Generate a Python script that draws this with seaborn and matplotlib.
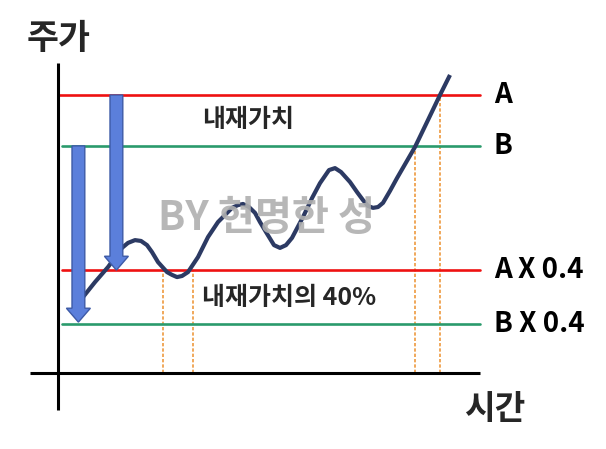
import matplotlib
matplotlib.use("Agg")
import matplotlib.pyplot as plt
import seaborn as sns
import pandas as pd
from matplotlib.patches import FancyArrow

sns.set_theme(style="white")
plt.rcParams['font.family'] = ['Noto Sans CJK KR', 'DejaVu Sans']

# ---- data (schematic values) ----
time = [6.25, 9.25, 12.5, 16.0, 17.5, 19.25, 20.75, 22.25, 23.5, 25.0, 27.25, 28.5,
        29.75, 31.0, 32.5, 35.0, 36.25, 37.5, 40.0, 43.5, 45.0, 46.25, 47.75, 49.25,
        50.5, 52.0, 54.0, 55.5, 57.0, 58.5, 61.25, 63.5, 65.5, 67.75, 69.25, 70.75,
        73.0, 74.75, 76.25, 77.5, 78.75, 80.0, 81.25, 83.0, 84.75, 89.25, 92.5,
        95.5, 98.0]
price = [27.3, 32.7, 38.1, 45.0, 46.8, 47.8, 47.5, 46.0, 43.5, 39.9, 36.3, 35.3,
         34.5, 34.9, 36.3, 41.7, 45.3, 48.9, 54.3, 59.4, 60.4, 60.8, 59.7, 57.6,
         54.3, 50.7, 46.0, 45.0, 46.0, 48.6, 56.1, 62.9, 68.3, 73.0, 73.7, 72.3,
         68.7, 65.1, 62.2, 60.1, 59.4, 59.7, 61.2, 65.5, 70.1, 81.3, 91.0,
         100.0, 107.2]

level_names = ["A", "B", "A X 0.4", "B X 0.4"]
level_values = [100.0, 81.7, 37.0, 17.6]
level_colors = ["#ee1111", "#2a9a6c", "#ee1111", "#2a9a6c"]
level_start = [0.0, 1.0, 1.0, 1.0]

cross_times = [26.25, 33.75, 89.25, 95.5]
cross_tops = [37.0, 37.0, 81.7, 100.0]

arrow_x = [5.1, 14.6]
arrow_from = [81.7, 100.0]
arrow_to = [18.3, 37.0]

band_labels = ["내재가치", "내재가치의 40%"]
band_pos = [(36.0, 91.0), (36.0, 27.0)]
watermark = "BY 현명한 성"

# ---- figure ----
fig = plt.figure(figsize=(6.06, 4.49), dpi=100)
ax = fig.add_axes([0, 0, 1, 1])
ax.set_xlim(-58 / 4, (606 - 58) / 4)
ax.set_ylim((373 - 449) / 2.78, 373 / 2.78)

# axes lines
ax.plot([0, 0], [-13.3, 111.5], color="black", lw=2.2, solid_capstyle="butt", zorder=3)
ax.plot([-7, 105.5], [0, 0], color="black", lw=2.2, solid_capstyle="butt", zorder=3)

# levels
for name, v, c, s in zip(level_names, level_values, level_colors, level_start):
    ax.plot([s, 105.5], [v, v], color=c, lw=1.9, zorder=2)
    ax.text(109.0, v, name, fontsize=20, fontweight="bold", color="black",
            ha="left", va="center")

# dashed crossing lines
for t, top in zip(cross_times, cross_tops):
    ax.plot([t, t], [0, top], color="#ee9a40", lw=1.2, ls=(0, (2.0, 1.2)), zorder=1)

# price curve
df = pd.DataFrame({"time": time, "price": price})
sns.lineplot(data=df, x="time", y="price", ax=ax, color="#2c3a63", lw=3.0,
             sort=False, zorder=4, legend=False)
ax.lines[-1].set_solid_joinstyle("round")
ax.lines[-1].set_solid_capstyle("butt")
ax.axis("off")

# arrows
for x, a, b in zip(arrow_x, arrow_from, arrow_to):
    ar = FancyArrow(x, a, 0, b - a, width=3.2, head_width=6.0, head_length=5.0,
                    length_includes_head=True, facecolor="#5b7fdb",
                    edgecolor="#3d5aa6", lw=1.0, zorder=5)
    ax.add_patch(ar)

# texts
ax.text(-7.75, 120.5, "주가", fontsize=25, fontweight="bold", ha="left", va="center")
ax.text(101.5, -13.3, "시간", fontsize=24, fontweight="bold", ha="left", va="center")
for lab, (x, y) in zip(band_labels, band_pos):
    ax.text(x, y, lab, fontsize=18, fontweight="bold", ha="left", va="center")
ax.text(25.0, 55.4, watermark, fontsize=29, fontweight="bold", color="#b0b0b0",
        alpha=0.9, ha="left", va="center", zorder=6)

fig.savefig("out.png", dpi=100)
